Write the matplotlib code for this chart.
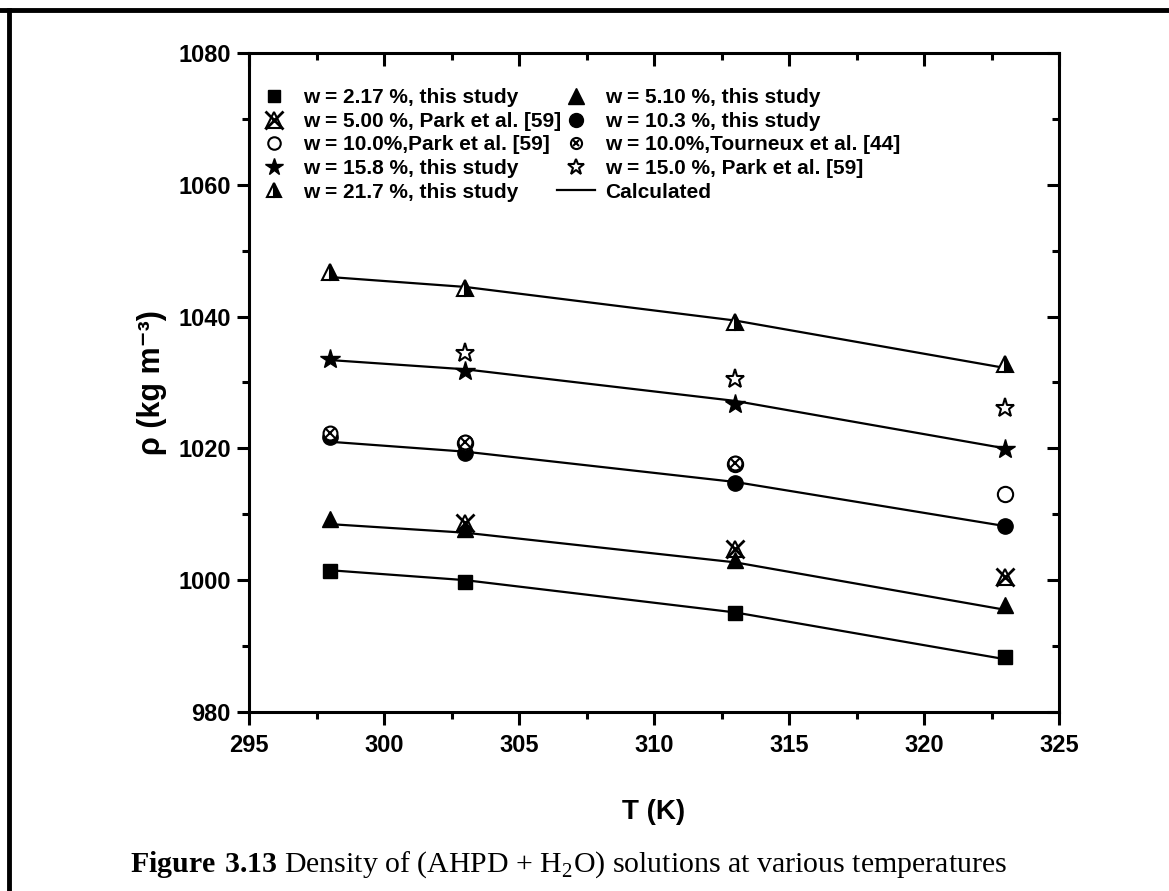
import matplotlib
matplotlib.use('Agg')
from matplotlib import pyplot as plt
from matplotlib.lines import Line2D
from matplotlib.ticker import MultipleLocator

# temperatures (K)
T = [298, 303, 313, 323]
T_park = [303, 313, 323]
T_tour = [298, 303, 313]

# measured densities, this study (kg m-3)
rho_217 = [1001.4, 999.7, 995.0, 988.3]
rho_510 = [1009.3, 1007.8, 1003.1, 996.2]
rho_103 = [1021.7, 1019.3, 1014.7, 1008.2]
rho_158 = [1033.6, 1031.8, 1026.7, 1019.9]
rho_217b = [1046.7, 1044.4, 1039.2, 1032.8]

# literature values
park_500 = [1008.7, 1004.8, 1000.4]
park_100 = [1020.8, 1017.6, 1013.1]
tour_100 = [1022.4, 1021.0, 1017.8]
park_150 = [1034.4, 1030.5, 1026.1]

# calculated curves
calc_217 = [1001.5, 1000.0, 995.1, 988.0]
calc_510 = [1008.5, 1007.2, 1002.7, 995.5]
calc_103 = [1021.0, 1019.5, 1014.9, 1008.2]
calc_158 = [1033.4, 1032.0, 1027.2, 1020.0]
calc_217b = [1046.0, 1044.5, 1039.4, 1032.2]

labels = ['w = 2.17 %, this study', 'w = 5.10 %, this study',
          'w = 5.00 %, Park et al. [59]', 'w = 10.3 %, this study',
          'w = 10.0%,Park et al. [59]', 'w = 10.0%,Tourneux et al. [44]',
          'w = 15.8 %, this study', 'w = 15.0 %, Park et al. [59]',
          'w = 21.7 %, this study', 'Calculated']

plt.rcParams['mathtext.fontset'] = 'custom'
plt.rcParams['mathtext.rm'] = 'Liberation Serif'
plt.rcParams['mathtext.bf'] = 'Liberation Serif:bold'

fig = plt.figure(figsize=(11.69, 8.91), dpi=100)
ax = fig.add_axes([0.213, 0.201, 0.693, 0.7395])

k = 'black'
# calculated lines
for c in [calc_217, calc_510, calc_103, calc_158, calc_217b]:
    ax.plot(T, c, color=k, lw=1.6, zorder=2)

ms = 11
ax.plot(T, rho_217, 's', color=k, ms=ms - 1, zorder=3)
ax.plot(T, rho_510, '^', color=k, ms=ms, zorder=3)
ax.plot(T_park, park_500, '^', mfc='none', mec=k, mew=1.5, ms=ms, zorder=3)
ax.plot(T_park, park_500, 'x', color=k, mew=2, ms=ms + 2, zorder=3)
ax.plot(T, rho_103, 'o', color=k, ms=ms, zorder=3)
ax.plot(T_park, park_100, 'o', mfc='white', mec=k, mew=1.5, ms=ms, zorder=3)
ax.plot(T_tour, tour_100, 'o', mfc='white', mec=k, mew=1.5, ms=ms - 1, zorder=4)
ax.plot(T_tour, tour_100, 'x', color=k, mew=1.5, ms=ms - 4, zorder=4)
ax.plot(T, rho_158, '*', color=k, ms=ms + 4, zorder=3)
ax.plot(T_park, park_150, '*', mfc='white', mec=k, mew=1.5, ms=ms + 3, zorder=3)
ax.plot(T, rho_217b, '^', color=k, mfc=k, mfcalt='white', fillstyle='right',
        mec=k, mew=1.5, ms=ms + 1, zorder=3)

ax.set_xlim(295, 325)
ax.set_ylim(980, 1080)
ax.xaxis.set_major_locator(MultipleLocator(5))
ax.xaxis.set_minor_locator(MultipleLocator(2.5))
ax.yaxis.set_major_locator(MultipleLocator(20))
ax.yaxis.set_minor_locator(MultipleLocator(10))
for s in ax.spines.values():
    s.set_linewidth(2.2)
ax.tick_params(which='both', top=True, right=True, width=2.2)
ax.tick_params(which='major', length=9)
ax.tick_params(which='minor', length=5)
ax.tick_params(axis='x', which='both', direction='out', labelsize=17, pad=7)
ax.tick_params(axis='y', which='both', direction='out', labelsize=17, pad=4)
# top/right ticks point inward
for t in ax.xaxis.get_ticklines(minor=False)[1::2] + ax.xaxis.get_ticklines(minor=True)[1::2]:
    t.set_marker(3)
for t in ax.yaxis.get_ticklines(minor=False)[1::2] + ax.yaxis.get_ticklines(minor=True)[1::2]:
    t.set_marker(0)
for lab in ax.get_xticklabels() + ax.get_yticklabels():
    lab.set_fontfamily('Liberation Sans')
    lab.set_fontweight('bold')

ax.set_xlabel('T (K)', fontsize=20, fontweight='bold', family='Liberation Sans', labelpad=30)
ax.set_ylabel('ρ (kg m⁻³)', fontsize=22, fontweight='bold',
              family=['Liberation Sans', 'DejaVu Sans'], labelpad=8)

# legend handles
h = [
    Line2D([], [], ls='none', marker='s', color=k, ms=ms - 3),
    Line2D([], [], ls='none', marker='^', color=k, ms=ms),
    (Line2D([], [], ls='none', marker='^', mfc='none', mec=k, mew=1.5, ms=ms),
     Line2D([], [], ls='none', marker='x', color=k, mew=2, ms=ms + 2)),
    Line2D([], [], ls='none', marker='o', color=k, ms=ms - 1),
    Line2D([], [], ls='none', marker='o', mfc='white', mec=k, mew=1.5, ms=ms - 2),
    (Line2D([], [], ls='none', marker='o', mfc='white', mec=k, mew=1.5, ms=ms - 3),
     Line2D([], [], ls='none', marker='x', color=k, mew=1.5, ms=ms - 6)),
    Line2D([], [], ls='none', marker='*', color=k, ms=ms + 2),
    Line2D([], [], ls='none', marker='*', mfc='white', mec=k, mew=1.5, ms=ms + 1),
    Line2D([], [], ls='none', marker='^', color=k, mfc=k, mfcalt='white',
           fillstyle='right', mec=k, mew=1.5, ms=ms - 1),
    Line2D([], [], color=k, lw=1.6),
]
order = [0, 2, 4, 6, 8, 1, 3, 5, 7, 9]
leg = ax.legend([h[i] for i in order], [labels[i] for i in order], ncol=2,
                loc='upper left', bbox_to_anchor=(-0.015, 0.975),
                frameon=False, handlelength=1.8, handletextpad=0.5,
                columnspacing=-0.2, labelspacing=0.22,
                prop={'family': 'Liberation Sans', 'weight': 'bold', 'size': 15})

# caption
fig.text(0.486, 0.012, r'$\mathbf{Figure\ 3.13}$ Density of (AHPD + H$_2$O) solutions at various temperatures',
         ha='center', va='bottom', fontsize=21.5, family='Liberation Serif',
         transform=fig.transFigure)

# page frame lines
fig.add_artist(Line2D([0, 1], [0.989, 0.989], color=k, lw=3.5, transform=fig.transFigure))
fig.add_artist(Line2D([0.0075, 0.0075], [0, 0.989], color=k, lw=3.5, transform=fig.transFigure))

fig.savefig('out.png', dpi=100)
